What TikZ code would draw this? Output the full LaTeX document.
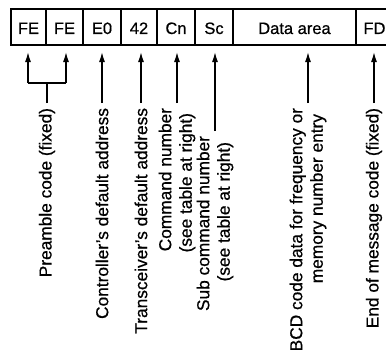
\documentclass[tikz,border=0pt]{standalone}
\usepackage{fontspec}
\setmainfont{Liberation Sans}[BoldFont=Liberation Sans, BoldFeatures={FakeBold=0.6}]
\usetikzlibrary{arrows.meta}
\begin{document}
\begin{tikzpicture}[x=1pt,y=-1pt,
  cell/.style={draw, line width=1.4pt, minimum height=36pt, inner sep=0pt,
    text height=14pt, text depth=0pt, font=\fontsize{16.5}{19}\selectfont\bfseries, anchor=center},
  lbl/.style={rotate=90, anchor=east, inner sep=0pt, outer sep=5pt,
    font=\fontsize{17.3}{20.5}\selectfont\bfseries, align=right},
  arr/.style={line width=1.3pt, -{Latex[length=10pt,width=6pt]}},
  ln/.style={line width=1.3pt}]
\fill[white] (0,0) rectangle (386,356);
\useasboundingbox (0,0) rectangle (386,356);
% cells
\node[cell, minimum width=35pt]  (c1) at (28.5,27) {FE};
\node[cell, minimum width=37pt]  (c2) at (64.5,27) {FE};
\node[cell, minimum width=38pt]  (c3) at (102,27) {E0};
\node[cell, minimum width=36pt]  (c4) at (139,27) {42};
\node[cell, minimum width=38pt]  (c5) at (176,27) {Cn};
\node[cell, minimum width=38pt]  (c6) at (214,27) {Sc};
\node[cell, minimum width=123pt] (c7) at (294.5,27) {Data area};
\node[cell, minimum width=37pt]  (c8) at (374.5,27) {FD};
% labels
\node[lbl] (tP) at (47,103) {Preamble code (fixed)};
\node[lbl] (tC) at (102,103) {Controller’s default address};
\node[lbl] (tT) at (141,103) {Transceiver’s default address};
\node[lbl] (tN) at (177,103) {Command number\\(see table at right)\kern5pt};
\node[lbl] (tS) at (215,131) {Sub command number\\(see table at right)\kern6pt};
\node[lbl] (tB) at (308,103) {BCD code data for frequency or\\memory number entry\kern6pt};
\node[lbl] (tE) at (374,103) {End of message code (fixed)};
% connectors
\coordinate (tip) at (0,52);
\coordinate (b1) at (28,83);
\coordinate (b2) at (66,83);
\draw[ln] (tP.east) -- (tP.east |- b1);
\draw[ln] (b1) -- (b2);
\draw[arr] (b1) -- (b1 |- tip);
\draw[arr] (b2) -- (b2 |- tip);
\draw[arr] (tC.east) -- (tC.east |- tip);
\draw[arr] (tT.east) -- (tT.east |- tip);
\draw[arr] (tN.east) -- (tN.east |- tip);
\draw[arr] (tS.east) -- (tS.east |- tip);
\draw[arr] (tB.east) -- (tB.east |- tip);
\draw[arr] (tE.east) -- (tE.east |- tip);
\end{tikzpicture}
\end{document}
